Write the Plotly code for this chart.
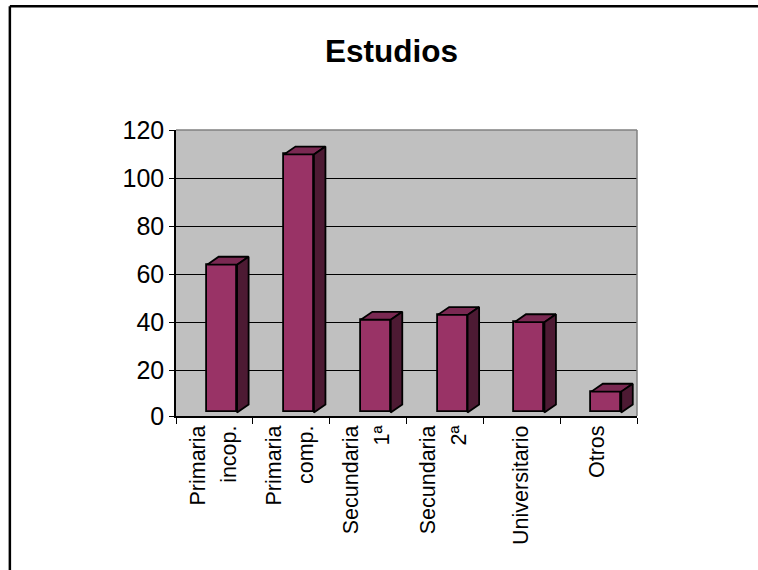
import plotly.graph_objects as go

categories = ["Primaria<br>incop.", "Primaria<br>comp.", "Secundaria<br>1ª", "Secundaria<br>2ª", "Universitario", "Otros"]
values = [64, 110, 41, 43, 40, 11]
y_tick_values = [0.83, 20, 40, 60, 80, 100, 120]
y_tick_labels = ["0", "20", "40", "60", "80", "100", "120"]

W, H = 758, 570
L, R, T, B = 175.5, 637.5, 130, 416.5
FLOOR = 2.3
BAR_W = 0.39
SHIFT = 0.1
DX = 0.15
DY = 3.3
FACE = "#993366"
TOP = "#7A2952"
SIDE = "#4D1A33"


def px(x):
    return (x - L) / (R - L)


def py(y):
    return (B - y) / (B - T)


def wrap(label):
    return "<br>".join(f'<span style="font-size:21.5px">{p}</span>' for p in label.split("<br>"))


fig = go.Figure()
fig.add_trace(go.Bar(
    x=categories, y=[v - FLOOR for v in values], base=[FLOOR] * len(values),
    width=BAR_W, offset=-BAR_W / 2 + SHIFT,
    marker=dict(color=FACE, line=dict(color="black", width=1.8)),
    showlegend=False, hoverinfo="skip",
))

top_x, top_y, side_x, side_y = [], [], [], []
for i, v in enumerate(values):
    xl = i - BAR_W / 2 + SHIFT
    xr = xl + BAR_W
    top_x += [xl, xr, xr + DX, xl + DX, xl, None]
    top_y += [v, v, v + DY, v + DY, v, None]
    side_x += [xr, xr + DX, xr + DX, xr, xr, None]
    side_y += [v, v + DY, FLOOR + DY, FLOOR, v, None]

for xs, ys, col in ((top_x, top_y, TOP), (side_x, side_y, SIDE)):
    fig.add_trace(go.Scatter(
        x=xs, y=ys, xaxis="x2", mode="lines", fill="toself", fillcolor=col,
        line=dict(color="black", width=1.8), showlegend=False, hoverinfo="skip",
    ))

frame = dict(type="line", xref="paper", yref="paper", line=dict(color="black", width=2.5))
wall = dict(type="line", xref="paper", yref="paper", line=dict(color="#808080", width=1.5), layer="above")

fig.update_layout(
    width=W, height=H,
    margin=dict(l=L, r=W - R, t=T, b=H - B, autoexpand=False, pad=0),
    paper_bgcolor="white", plot_bgcolor="#C0C0C0",
    font=dict(family="Liberation Sans, Arial, sans-serif", color="black"),
    title=dict(text="<b>Estudios</b>", font=dict(size=31.5, color="black"),
               x=391.5 / W, xanchor="center", y=1 - 51 / H, yanchor="middle"),
    bargap=0,
    xaxis=dict(
        type="category", categoryorder="array", categoryarray=categories,
        range=[-0.5, 5.5], tickson="boundaries", ticks="outside", ticklen=6,
        tickwidth=1.2, tickcolor="black", tickangle=-90,
        tickmode="array", tickvals=categories, ticktext=[wrap(c) for c in categories],
        tickfont=dict(size=24), ticklabelshift=-2, ticklabelstandoff=-2,
        showgrid=False, showline=True,
        linecolor="black", linewidth=1.8, zeroline=False,
    ),
    xaxis2=dict(overlaying="x", range=[-0.5, 5.5], visible=False),
    yaxis=dict(
        range=[0.83, 120.2], tickmode="array", tickvals=y_tick_values, ticktext=y_tick_labels,
        ticks="outside", ticklen=5, tickwidth=1.2, tickcolor="black",
        tickfont=dict(size=25), showgrid=True, gridcolor="black", gridwidth=1,
        showline=True, linecolor="black", linewidth=1.5, zeroline=False,
    ),
    shapes=[
        {**frame, "x0": px(9), "x1": px(W + 5), "y0": py(6), "y1": py(6)},
        {**frame, "x0": px(9), "x1": px(9), "y0": py(6), "y1": py(H + 5)},
        {**wall, "x0": 0, "x1": 1, "y0": 1, "y1": 1},
        {**wall, "x0": 1, "x1": 1, "y0": 0, "y1": 1},
    ],
)

fig.write_html(
    "out.html",
    config={"displayModeBar": False},
    post_script="document.body.style.margin='0';document.body.style.overflow='hidden';",
)
